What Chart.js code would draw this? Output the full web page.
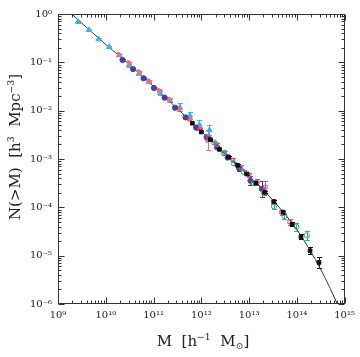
<!DOCTYPE html>
<html><head><meta charset="utf-8">
<script src="https://cdn.jsdelivr.net/npm/chart.js@4"></script>
<style>html,body{margin:0;padding:0;background:#fff}</style>
</head><body>
<canvas id="c" width="360" height="357" style="width:360px;height:357px;display:block"></canvas>
<script>
// ---- data ----
const lineM = [1.5e9, 1e10, 3e10, 1e11, 3e11, 1e12, 3e12, 1e13, 3e13, 1e14, 2e14, 3e14, 5e14, 7e14, 1e15];
const lineN = [1.26, 0.234, 0.0933, 0.0316, 0.0115, 3.72e-3, 1.32e-3, 4.37e-4, 1.48e-4, 3.47e-5, 1.17e-5, 5.75e-6, 2.09e-6, 1e-6, 4e-7];

const cyanM = [2.63e9, 4.42e9, 7.08e9, 1.175e10, 1.905e10, 3.055e10, 4.90e10, 7.94e10, 1.38e11, 2.19e11, 3.55e11, 5.75e11, 9.12e11, 1.48e12];
const cyanN = [0.692, 0.468, 0.302, 0.209, 0.141, 0.0871, 0.0575, 0.0398, 0.0229, 0.0166, 0.01175, 7.94e-3, 5.13e-3, 3.98e-3];
const cyanErr = [0.02, 0.02, 0.02, 0.02, 0.02, 0.03, 0.03, 0.03, 0.04, 0.05, 0.08, 0.08, 0.09, 0.11];

const blueM = [2.24e10, 3.72e10, 6.17e10, 1.02e11, 1.70e11, 2.82e11, 4.68e11, 7.76e11, 1.29e12, 2.14e12, 3.55e12, 6.17e12, 1.07e13, 1.86e13];
const blueN = [0.112, 0.0724, 0.0468, 0.0295, 0.0186, 0.0115, 7.24e-3, 4.47e-3, 2.82e-3, 1.74e-3, 1.07e-3, 6.46e-4, 3.55e-4, 2.40e-4];
const blueErr = [0.02, 0.02, 0.02, 0.02, 0.02, 0.02, 0.02, 0.02, 0.02, 0.02, 0.03, 0.05, 0.09, 0.17];

const redM = [1.905e10, 3.09e10, 5.01e10, 8.13e10, 1.32e11, 2.14e11, 3.47e11, 5.62e11, 8.71e11, 1.35e12];
const redN = [0.145, 0.0977, 0.0631, 0.0407, 0.0263, 0.0170, 0.0107, 6.76e-3, 4.47e-3, 2.45e-3];
const redErr = [0.02, 0.02, 0.02, 0.02, 0.02, 0.02, 0.03, 0.03, 0.04, 0.21];

const pinkM = [9.55e11, 1.41e12, 2.09e12, 3.09e12, 4.57e12, 6.76e12, 1.0e13, 1.48e13, 2.19e13, 3.24e13, 4.79e13, 7.08e13];
const pinkN = [4.17e-3, 2.82e-3, 2.0e-3, 1.38e-3, 9.55e-4, 6.76e-4, 4.68e-4, 3.31e-4, 2.63e-4, 1.29e-4, 7.94e-5, 5.01e-5];
const pinkErr = [0.03, 0.03, 0.03, 0.03, 0.04, 0.04, 0.05, 0.06, 0.13, 0.05, 0.05, 0.06];

const greenM = [1.86e12, 2.95e12, 4.79e12, 7.76e12, 1.26e13, 2.04e13, 3.31e13, 5.50e13, 9.77e13, 1.62e14];
const greenN = [2.19e-3, 1.32e-3, 8.13e-4, 5.37e-4, 3.16e-4, 2.0e-4, 1.05e-4, 6.61e-5, 3.98e-5, 2.63e-5];
const greenErr = [0.03, 0.03, 0.03, 0.04, 0.04, 0.04, 0.05, 0.06, 0.08, 0.10];

const blackM = [6.46e11, 1.0e12, 1.55e12, 2.4e12, 3.72e12, 5.75e12, 8.91e12, 1.38e13, 2.14e13, 3.31e13, 5.13e13, 7.94e13, 1.22e14, 1.89e14, 2.91e14];
const blackN = [5.50e-3, 3.63e-3, 2.51e-3, 1.58e-3, 1.10e-3, 7.41e-4, 4.90e-4, 3.16e-4, 2.04e-4, 1.32e-4, 7.94e-5, 4.47e-5, 2.45e-5, 1.26e-5, 7.24e-6];
const blackErr = [0.02, 0.02, 0.02, 0.02, 0.02, 0.02, 0.02, 0.02, 0.02, 0.03, 0.03, 0.04, 0.05, 0.07, 0.11];

const xTitleParts = [{t:'M  [h', s:0}, {t:'\u22121', s:1}, {t:'  M', s:0}, {t:'\u2299', s:-1}, {t:']', s:0}];
const yTitleParts = [{t:'N(>M)  [h', s:0}, {t:'3', s:1}, {t:'  Mpc', s:0}, {t:'\u22123', s:1}, {t:']', s:0}];

// ---- helpers ----
const pts = (M, N) => M.map((m, i) => ({x: m, y: N[i]}));
const SUP = {'0':'⁰','1':'¹','2':'²','3':'³','4':'⁴','5':'⁵','6':'⁶','7':'⁷','8':'⁸','9':'⁹','-':'⁻'};
function isDecade(v){ const l = Math.log10(v); return Math.abs(l - Math.round(l)) < 1e-6; }
function decLabel(v){ const e = Math.round(Math.log10(v)); return '10' + String(e).split('').map(c => SUP[c]).join(''); }

const SERIF = "'DejaVu Serif', 'Liberation Serif', serif";

function drawRich(ctx, parts, cx, cy, size){
  const fonts = parts.map(p => (p.s === 0 ? size : size*0.62).toFixed(1) + 'px ' + SERIF);
  let w = 0; const ws = [];
  parts.forEach((p, i) => { ctx.font = fonts[i]; const m = ctx.measureText(p.t).width; ws.push(m); w += m; });
  let x = cx - w/2;
  parts.forEach((p, i) => {
    ctx.font = fonts[i];
    const dy = p.s === 1 ? -size*0.42 : (p.s === -1 ? size*0.22 : 0);
    ctx.fillText(p.t, x, cy + dy);
    x += ws[i];
  });
}

const errPlugin = {
  id: 'errbars',
  beforeDatasetsDraw(chart){
    const {ctx} = chart; const xs = chart.scales.x, ys = chart.scales.y;
    ctx.save();
    chart.data.datasets.forEach(ds => {
      if (!ds.err) return;
      ctx.strokeStyle = ds.borderColor; ctx.lineWidth = 1;
      ds.data.forEach((p, j) => {
        const e = ds.err[j];
        const px = Math.round(xs.getPixelForValue(p.x)) + 0.5;
        const y1 = ys.getPixelForValue(p.y / Math.pow(10, e));
        const y2 = ys.getPixelForValue(p.y * Math.pow(10, e));
        ctx.beginPath();
        ctx.moveTo(px, y1); ctx.lineTo(px, y2);
        ctx.moveTo(px-2.5, Math.round(y1)+0.5); ctx.lineTo(px+2.5, Math.round(y1)+0.5);
        ctx.moveTo(px-2.5, Math.round(y2)+0.5); ctx.lineTo(px+2.5, Math.round(y2)+0.5);
        ctx.stroke();
      });
    });
    ctx.restore();
  }
};

const framePlugin = {
  id: 'frame',
  beforeDraw(chart){
    const {ctx} = chart; ctx.save(); ctx.fillStyle = '#fff'; ctx.fillRect(0,0,chart.width,chart.height); ctx.restore();
  },
  afterDraw(chart){
    const {ctx, chartArea: a} = chart; const xs = chart.scales.x, ys = chart.scales.y;
    ctx.save();
    ctx.strokeStyle = '#333'; ctx.lineWidth = 1;
    const L = Math.round(a.left)+0.5, R = Math.round(a.right)-0.5, T = Math.round(a.top)+0.5, B = Math.round(a.bottom)-0.5;
    ctx.strokeRect(L, T, R-L, B-T);
    ctx.beginPath();
    for (let e = 9; e <= 15; e++) {
      for (let m = 1; m <= 9; m++) {
        if (e === 15 && m > 1) break;
        const px = Math.round(xs.getPixelForValue(m*Math.pow(10,e))) + 0.5;
        const len = m === 1 ? 6 : 3;
        ctx.moveTo(px, B); ctx.lineTo(px, B-len);
        ctx.moveTo(px, T); ctx.lineTo(px, T+len);
      }
    }
    for (let e = -6; e <= 0; e++) {
      for (let m = 1; m <= 9; m++) {
        if (e === 0 && m > 1) break;
        const py = Math.round(ys.getPixelForValue(m*Math.pow(10,e))) + 0.5;
        const len = m === 1 ? 6 : 3;
        ctx.moveTo(L, py); ctx.lineTo(L+len, py);
        ctx.moveTo(R, py); ctx.lineTo(R-len, py);
      }
    }
    ctx.stroke();
    // titles
    ctx.fillStyle = '#222'; ctx.textBaseline = 'alphabetic';
    drawRich(ctx, xTitleParts, 203, 346, 15);
    ctx.translate(20, 147); ctx.rotate(-Math.PI/2);
    drawRich(ctx, yTitleParts, 0, 0, 15);
    ctx.restore();
  }
};

function ptDs(data, err, color, style, filled, order, rot){
  return {
    data, err, borderColor: color, backgroundColor: filled ? color : 'rgba(0,0,0,0)',
    pointStyle: style, pointRadius: style === 'triangle' ? 3.1 : 2.6, pointBorderWidth: 1,
    pointRotation: rot || 0, showLine: false, order
  };
}

const tickFont = {family: SERIF, size: 10};
new Chart(document.getElementById('c'), {
  type: 'scatter',
  data: {
    datasets: [
      {data: pts(lineM, lineN), showLine: true, borderColor: '#333', borderWidth: 1, pointRadius: 0, tension: 0.4, cubicInterpolationMode: 'monotone', order: 10},
      ptDs(pts(cyanM, cyanN), cyanErr, '#3fb4e2', 'triangle', true, 6),
      ptDs(pts(redM, redN), redErr, '#f0707e', 'triangle', true, 5, 90),
      ptDs(pts(blueM, blueN), blueErr, '#4a3f9e', 'circle', true, 4),
      ptDs(pts(pinkM, pinkN), pinkErr, '#e4508a', 'rect', false, 3),
      ptDs(pts(greenM, greenN), greenErr, '#38ad86', 'circle', false, 2),
      ptDs(pts(blackM, blackN), blackErr, '#111111', 'rect', true, 1)
    ]
  },
  options: {
    responsive: false, animation: false, devicePixelRatio: 1,
    layout: {padding: {left: 0, top: 14, right: 11, bottom: 0}},
    plugins: {legend: {display: false}, tooltip: {enabled: false}},
    scales: {
      x: {
        type: 'logarithmic', min: 1e9, max: 1e15,
        grid: {display: false, drawTicks: false}, border: {display: false},
        ticks: {autoSkip: false, maxRotation: 0, padding: 5, color: '#222', font: tickFont,
          callback: v => isDecade(v) ? decLabel(v) : ''},
        afterFit: s => { s.height = 53; }
      },
      y: {
        type: 'logarithmic', min: 1e-6, max: 1,
        grid: {display: false, drawTicks: false}, border: {display: false},
        ticks: {autoSkip: false, padding: 6, color: '#222', font: tickFont,
          callback: v => isDecade(v) ? decLabel(v) : ''},
        afterFit: s => { s.width = 58; }
      }
    }
  },
  plugins: [errPlugin, framePlugin]
});
</script>
</body></html>
